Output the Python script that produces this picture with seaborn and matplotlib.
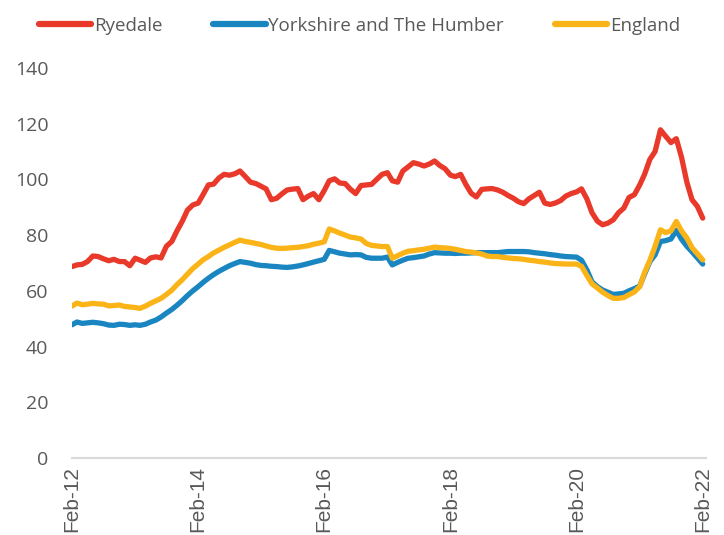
import numpy as np
import pandas as pd
import matplotlib
matplotlib.use("Agg")
import matplotlib.pyplot as plt
import matplotlib.dates as mdates
import seaborn as sns

# monthly index values, Feb 2012 - Feb 2022
months = pd.date_range("2012-02-01", periods=121, freq="MS")

ryedale = [
    68.7, 69.3, 69.5, 70.5, 72.5, 72.3, 71.5, 70.8, 71.3, 70.5,
    70.5, 69.0, 71.7, 71.0, 70.2, 71.8, 72.2, 71.8, 76.0, 77.7,
    81.5, 85.0, 89.0, 90.8, 91.5, 94.5, 98.0, 98.3, 100.5, 101.8,
    101.5, 102.0, 103.0, 101.0, 99.0, 98.5, 97.5, 96.6, 92.7, 93.2,
    94.8, 96.2, 96.5, 96.7, 92.7, 94.0, 94.9, 92.7, 96.0, 99.5,
    100.2, 98.7, 98.5, 96.5, 94.9, 97.8, 98.0, 98.2, 100.0, 101.8,
    102.4, 99.5, 99.0, 103.0, 104.5, 106.0, 105.5, 104.8, 105.5, 106.6,
    105.0, 103.8, 101.5, 101.0, 101.8, 98.2, 95.0, 93.7, 96.4, 96.6,
    96.7, 96.2, 95.4, 94.2, 93.2, 92.0, 91.3, 93.0, 94.2, 95.4,
    91.5, 91.0, 91.5, 92.4, 94.0, 94.9, 95.5, 96.6, 93.0, 88.0,
    85.0, 83.7, 84.3, 85.5, 88.0, 89.7, 93.5, 94.5, 98.0, 101.8,
    107.2, 110.0, 117.8, 115.5, 113.2, 114.6, 108.0, 99.0, 92.7, 90.3,
    86.1,
]

yorkshire = [
    47.8, 48.8, 48.3, 48.5, 48.7, 48.5, 48.2, 47.7, 47.6, 48.0,
    47.9, 47.6, 47.8, 47.6, 48.0, 48.8, 49.5, 50.6, 52.0, 53.3,
    54.8, 56.5, 58.3, 60.0, 61.5, 63.0, 64.5, 65.8, 67.0, 68.0,
    69.0, 69.8, 70.5, 70.2, 69.9, 69.4, 69.1, 69.0, 68.8, 68.7,
    68.5, 68.4, 68.6, 68.9, 69.3, 69.8, 70.3, 70.8, 71.3, 74.5,
    74.0, 73.5, 73.2, 72.9, 73.0, 72.9, 72.0, 71.7, 71.7, 71.7,
    72.1, 69.3, 70.2, 71.0, 71.7, 71.9, 72.2, 72.5, 73.2, 73.7,
    73.6, 73.5, 73.5, 73.4, 73.5, 73.5, 73.6, 73.7, 73.7, 73.7,
    73.7, 73.7, 73.9, 74.1, 74.1, 74.1, 74.1, 74.0, 73.7, 73.5,
    73.3, 73.0, 72.8, 72.5, 72.3, 72.2, 72.1, 71.0, 67.5, 63.2,
    61.5, 60.3, 59.5, 58.7, 58.9, 59.1, 60.0, 60.8, 61.7, 66.0,
    70.5, 72.9, 77.7, 78.0, 78.6, 81.7, 78.5, 76.0, 74.0, 71.8,
    69.6,
]

england = [
    54.5, 55.6, 55.0, 55.2, 55.5, 55.3, 55.2, 54.6, 54.7, 54.9,
    54.4, 54.2, 54.0, 53.7, 54.5, 55.5, 56.4, 57.3, 58.7, 60.2,
    62.2, 64.0, 66.0, 68.0, 69.6, 71.1, 72.3, 73.6, 74.6, 75.6,
    76.5, 77.4, 78.2, 77.7, 77.4, 77.0, 76.6, 76.1, 75.6, 75.3,
    75.2, 75.3, 75.5, 75.6, 75.9, 76.2, 76.7, 77.1, 77.6, 82.2,
    81.5, 80.7, 80.0, 79.3, 79.0, 78.6, 77.0, 76.3, 76.1, 75.9,
    75.9, 71.7, 72.6, 73.5, 74.2, 74.4, 74.7, 74.9, 75.3, 75.7,
    75.5, 75.4, 75.2, 74.9, 74.5, 74.1, 73.9, 73.6, 73.2, 72.5,
    72.3, 72.3, 72.0, 71.8, 71.6, 71.5, 71.3, 71.0, 70.8, 70.5,
    70.3, 70.0, 69.8, 69.7, 69.6, 69.6, 69.6, 68.8, 65.5, 62.5,
    61.0, 59.5, 58.3, 57.3, 57.3, 57.6, 58.6, 59.6, 61.5, 66.5,
    71.0, 76.0, 81.9, 80.9, 81.5, 84.9, 81.5, 79.0, 75.5, 73.3,
    71.1,
]

series_names = ["Ryedale", "Yorkshire and The Humber", "England"]
colours = ["#E8392A", "#1A86C1", "#FBB417"]

df = pd.DataFrame({
    "month": np.tile(months, 3),
    "value": ryedale + yorkshire + england,
    "area": np.repeat(series_names, len(months)),
})

sns.set_style("white")
plt.rcParams["font.family"] = ["Open Sans", "DejaVu Sans"]

fig = plt.figure(figsize=(7.24, 5.35), dpi=100)
ax = fig.add_axes([0.0994, 0.144, 0.876, 0.729])

sns.lineplot(data=df, x="month", y="value", hue="area", hue_order=series_names,
             palette=colours, linewidth=3.8, ax=ax, legend=False)

ax.set_ylim(0, 140)
ax.set_yticks(range(0, 141, 20))
ax.set_xlim(months[0], months[-1] + pd.Timedelta(days=20))
ax.xaxis.set_major_locator(mdates.YearLocator(base=2, month=2, day=1))
ax.xaxis.set_major_formatter(mdates.DateFormatter("%b-%y"))
ax.set_xlabel("")
ax.set_ylabel("")

for side in ["top", "right", "left"]:
    ax.spines[side].set_visible(False)
ax.spines["bottom"].set_color("#D9D9D9")
ax.spines["bottom"].set_linewidth(1.5)
ax.tick_params(axis="x", colors="#595959", labelsize=15, rotation=90,
               length=5, width=1.2, direction="out", pad=1)
ax.tick_params(axis="x", color="#D9D9D9")
ax.tick_params(axis="y", colors="#595959", labelsize=14, length=0, pad=17)
for lbl in ax.get_xticklabels():
    lbl.set_verticalalignment("top")
    lbl.set_fontfamily(["Liberation Sans", "DejaVu Sans"])

handles = [plt.Line2D([], [], color=c, linewidth=4.5, solid_capstyle="round")
           for c in colours]
fig.legend(handles, series_names, loc="upper left", bbox_to_anchor=(0.03, 1.0),
           ncol=3, frameon=False, fontsize=13.5, handlelength=2.8,
           handletextpad=0.15, columnspacing=2.7, labelcolor="#595959")

fig.savefig("out.png", dpi=100)
